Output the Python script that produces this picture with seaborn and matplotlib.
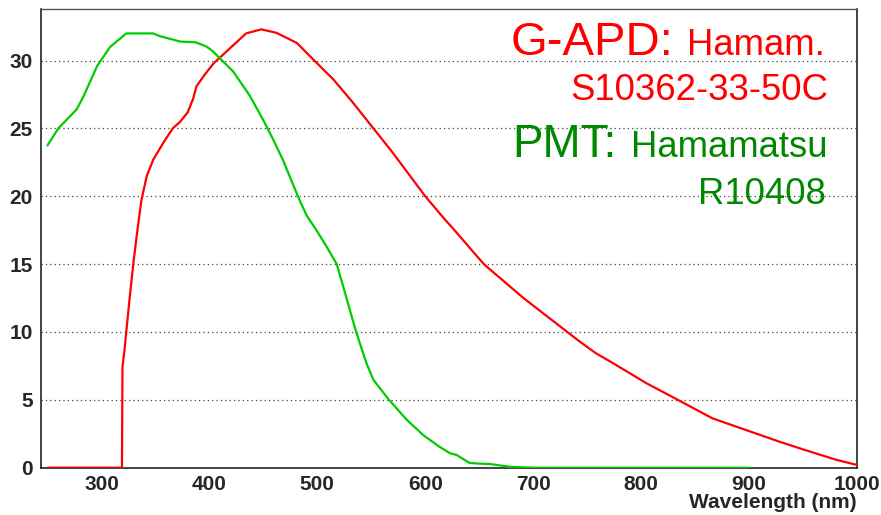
import numpy as np
import pandas as pd
import matplotlib
matplotlib.use("Agg")
import matplotlib.pyplot as plt
import seaborn as sns
from matplotlib.ticker import MultipleLocator

# ---- data ----
gapd_wl = [250, 319, 319.5, 321, 323, 326, 329.5, 333, 337, 342, 348, 357, 366, 373,
           380, 385, 388, 396, 404, 419, 434, 448, 462, 481, 496, 515, 533, 552, 570,
           600, 617, 626, 651, 655, 691, 743, 758, 774, 805, 834, 866, 897, 928, 950,
           980, 1000]
gapd_pde = [0, 0, 7.45, 8.4, 10.0, 12.4, 15.0, 17.3, 19.7, 21.5, 22.7, 23.9, 25.0, 25.5,
            26.2, 27.2, 28.1, 29.0, 29.8, 30.9, 32.0, 32.3, 32.05, 31.3, 30.1, 28.6, 26.9,
            25.0, 23.2, 20.0, 18.4, 17.6, 15.3, 14.95, 12.5, 9.3, 8.44, 7.7, 6.22, 5.0,
            3.64, 2.78, 1.92, 1.35, 0.6, 0.2]

pmt_wl = [250, 260, 277, 283, 296, 308, 323, 348, 354, 373, 387, 397, 403, 408, 422,
          437.5, 450, 459, 468, 482, 490, 500, 510, 518, 524, 532, 536, 545.5, 552, 566,
          583, 598, 613, 623, 629, 641, 650, 660, 678, 700, 900]
pmt_qe = [23.75, 25.0, 26.4, 27.3, 29.6, 31.0, 32.0, 32.0, 31.8, 31.4, 31.35, 31.05,
          30.7, 30.3, 29.2, 27.4, 25.6, 24.2, 22.7, 20.0, 18.6, 17.4, 16.1, 15.0, 13.35,
          11.1, 10.0, 7.7, 6.47, 5.04, 3.52, 2.41, 1.55, 1.06, 0.94, 0.35, 0.3, 0.27,
          0.07, 0.0, 0.0]

x_ticks = [300, 400, 500, 600, 700, 800, 900, 1000]
y_ticks = [0, 5, 10, 15, 20, 25, 30]
x_label = "Wavelength (nm)"

RED = "#ff0000"
GREEN_LINE = "#00cc00"
GREEN_TEXT = "#008800"

sns.set_style("white")
plt.rcParams["font.family"] = ["Liberation Sans", "DejaVu Sans"]

fig = plt.figure(figsize=(8.81, 5.15), dpi=100)
ax = fig.add_axes([41 / 881, (515 - 467.7) / 515, 816 / 881, 458.7 / 515])

gapd = pd.DataFrame({"wl": gapd_wl, "val": gapd_pde})
pmt = pd.DataFrame({"wl": pmt_wl, "val": pmt_qe})
sns.lineplot(data=gapd, x="wl", y="val", ax=ax, color=RED, lw=1.6,
             estimator=None, sort=False, zorder=3)
sns.lineplot(data=pmt, x="wl", y="val", ax=ax, color=GREEN_LINE, lw=1.6,
             estimator=None, sort=False, zorder=3)

ax.set_xlim(244, 1000)
ax.set_ylim(0, 33.8)
ax.set_xticks(x_ticks)
ax.set_yticks(y_ticks)
ax.xaxis.set_minor_locator(MultipleLocator(20))
ax.yaxis.set_minor_locator(MultipleLocator(1))

for yv in y_ticks[1:]:
    ax.axhline(yv, color="#444444", lw=0.9, ls=(0, (1, 2.5)), zorder=1)

ax.tick_params(axis="both", which="both", direction="in", color="#222222", width=1.0,
               top=False, right=False)
ax.tick_params(axis="y", which="major", length=17, pad=6)
ax.tick_params(axis="y", which="minor", length=8.8)
ax.tick_params(axis="x", which="major", length=9.2, pad=5.5)
ax.tick_params(axis="x", which="minor", length=4.2)
for lab in ax.get_xticklabels() + ax.get_yticklabels():
    lab.set_fontsize(15)
    lab.set_fontweight("bold")

ax.set_ylabel("")
ax.set_xlabel(x_label, fontsize=15, fontweight="bold", loc="right", labelpad=-1)

for s in ["left", "bottom", "right"]:
    ax.spines[s].set_color("#111111")
    ax.spines[s].set_linewidth(1.1)
ax.spines["top"].set_color("#555555")
ax.spines["top"].set_linewidth(1.0)

def y_frac(py):
    return (467.7 - py) / 458.7

def x_frac(px):
    return (px - 41) / 816

# right-aligned text lines
t1 = ax.text(x_frac(825), y_frac(55), "Hamam.", color=RED, fontsize=26.3,
             ha="right", va="baseline", transform=ax.transAxes)
ax.text(x_frac(828), y_frac(100), "S10362-33-50C", color=RED, fontsize=26.3,
        ha="right", va="baseline", transform=ax.transAxes)
t3 = ax.text(x_frac(827), y_frac(157), "Hamamatsu", color=GREEN_TEXT, fontsize=26.3,
             ha="right", va="baseline", transform=ax.transAxes)
ax.text(x_frac(826), y_frac(204), "R10408", color=GREEN_TEXT, fontsize=26.3,
        ha="right", va="baseline", transform=ax.transAxes)

fig.canvas.draw()
r = fig.canvas.get_renderer()
bb1 = t1.get_window_extent(r)
bb3 = t3.get_window_extent(r)
inv = ax.transAxes.inverted()
gap = 14
x1 = inv.transform((bb1.x0 - gap, 0))[0]
x3 = inv.transform((bb3.x0 - gap, 0))[0]
ax.text(x1, y_frac(55), "G-APD:", color=RED, fontsize=34, ha="right", va="baseline",
        transform=ax.transAxes)
ax.text(x3, y_frac(157), "PMT:", color=GREEN_TEXT, fontsize=33, ha="right", va="baseline",
        transform=ax.transAxes)

fig.savefig("out.png", dpi=100)
